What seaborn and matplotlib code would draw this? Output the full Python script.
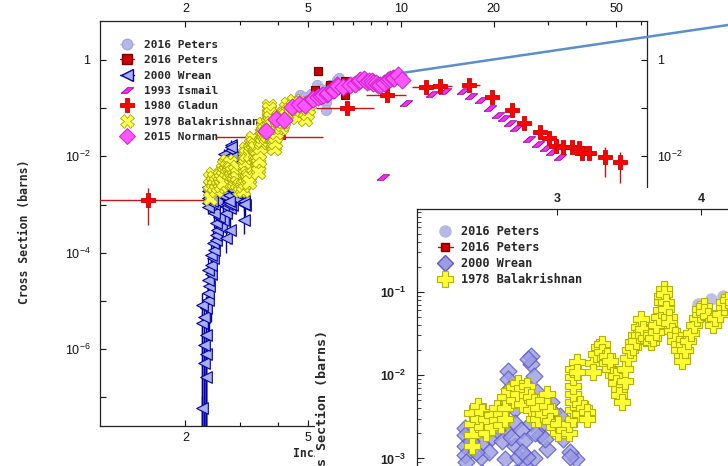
import numpy as np
import pandas as pd
import matplotlib
matplotlib.use("Agg")
import matplotlib.pyplot as plt
import seaborn as sns
from matplotlib.lines import Line2D
from matplotlib.patches import Rectangle
from matplotlib.ticker import FixedLocator, FuncFormatter, LogLocator, NullFormatter, NullLocator

# ---------------- data ----------------
# 2016 Peters (circles)
peters_c_x = [3.98, 4.07, 4.15, 4.30, 4.55, 4.70, 4.90, 5.10, 5.35, 5.50, 5.70, 5.70, 5.70, 5.90, 6.20, 6.30, 6.60, 6.90, 7.20]
peters_c_y = [0.072, 0.082, 0.090, 0.10, 0.14, 0.19, 0.17, 0.20, 0.30, 0.25, 0.24, 0.137, 0.092, 0.30, 0.385, 0.42, 0.30, 0.35, 0.30]
# 2016 Peters (squares)
peters_s_x = [5.37, 6.60, 6.60, 5.25, 5.90]
peters_s_y = [0.58, 0.36, 0.19, 0.24, 0.30]

# 2000 Wrean
wrean_x = [2.27, 2.33, 2.30, 2.33, 2.30, 2.33, 2.27, 2.30, 2.33, 2.27, 2.36, 2.36, 2.39, 2.36, 2.42,
           2.36, 2.42, 2.45, 2.42, 2.48, 2.45, 2.51, 2.51, 2.71, 2.54, 2.61, 2.78, 2.51, 2.64, 3.09,
           2.57, 2.71, 2.48, 2.78, 3.13, 2.64, 2.84,
           2.36, 2.36, 2.36, 2.36, 2.37, 2.47, 2.47, 2.53, 2.60, 2.65, 2.66, 2.66, 2.67, 2.65, 2.71,
           2.71, 2.71, 2.73, 2.79, 2.82, 2.82, 2.80, 2.84, 2.86, 2.86, 2.82, 2.90, 2.88, 2.93, 2.96,
           2.97, 3.02, 3.01, 3.04, 3.09, 3.09, 2.40, 2.44, 2.55, 2.58, 2.62, 2.68, 2.75, 2.77, 2.85,
           2.92, 2.98, 2.76]
wrean_y = [5.9e-8, 2.7e-7, 5.1e-7, 8.1e-7, 1.23e-6, 1.95e-6, 3.5e-6, 4.7e-6, 7.1e-6, 8.3e-6, 1.05e-5,
           1.45e-5, 2.0e-5, 2.75e-5, 3.7e-5, 4.4e-5, 5.6e-5, 7.8e-5, 8.9e-5, 1.15e-4, 1.6e-4, 1.86e-4,
           2.34e-4, 2.0e-4, 2.95e-4, 3.5e-4, 3.0e-4, 4.1e-4, 4.8e-4, 4.8e-4, 5.6e-4, 6.6e-4, 6.6e-4,
           8.3e-4, 9.8e-4, 9.8e-4, 1.0e-3,
           0.0023, 0.0019, 0.0014, 0.0011, 0.0009, 0.0015, 0.00105, 0.0012, 0.0027, 0.0021, 0.0112,
           0.0089, 0.0068, 0.0047, 0.0039, 0.0027, 0.0014, 0.00105, 0.00105, 0.017, 0.0136, 0.0155,
           0.0098, 0.0062, 0.0043, 0.0027, 0.0027, 0.0019, 0.0013, 0.0047, 0.0036, 0.0032, 0.0022,
           0.0017, 0.0012, 0.00105, 0.0016, 0.0012, 0.0018, 0.0022, 0.0016, 0.0018, 0.0022, 0.0016,
           0.0020, 0.0017, 0.0026, 0.0012]
wrean_err_lo = [0.999, 0.999, 0.999, 0.999, 0.999, 0.999, 0.999, 0.999, 0.999, 0.999, 0.95,
                0.95, 0.95, 0.9, 0.9, 0.9, 0.9, 0.8, 0.8, 0.7, 0.7, 0.6, 0.6, 0.5, 0.5, 0.5, 0.5,
                0.5, 0.5, 0.5, 0.5, 0.5, 0.5, 0.4, 0.4, 0.4, 0.4] + [0.3] * 48
wrean_err_hi = [0.8] * 37 + [0.3] * 48

# 1993 Ismail
ismail_x = [10.4, 12.6, 13.9, 15.9, 16.9, 18.2, 19.4, 20.6, 21.6, 22.6, 23.7, 26.1, 27.8, 29.5, 31.0, 32.9, 8.78]
ismail_y = [0.126, 0.197, 0.23, 0.23, 0.18, 0.148, 0.099, 0.072, 0.062, 0.049, 0.038, 0.0226, 0.018, 0.015,
            0.0125, 0.0098, 0.0037]

# 1980 Gladun
gladun_x = [1.51, 3.99, 6.7, 9.0, 12.05, 13.4, 16.6, 19.7, 22.9, 25.1, 28.3, 30.3, 31.8, 33.6, 36.0, 37.8,
            38.7, 40.7, 46.0, 51.4]
gladun_y = [0.00124, 0.025, 0.10, 0.19, 0.27, 0.29, 0.30, 0.17, 0.092, 0.050, 0.032, 0.0245, 0.0166, 0.016,
            0.016, 0.0146, 0.012, 0.0116, 0.0096, 0.0076]
gladun_xerr_lo = [0.51, 1.49, 1.4, 1.3, 1.15, 0.8, 0.8] + [0.0] * 13
gladun_xerr_hi = [0.97, 1.61, 1.5, 1.4, 0.55, 1.2, 1.5] + [0.0] * 13
gladun_yerr_lo = [0.00086, 0.002, 0.008, 0.015, 0.02, 0.02, 0.02, 0.012, 0.008, 0.004, 0.003, 0.003, 0.002,
                  0.002, 0.002, 0.002, 0.003, 0.002, 0.0058, 0.0048]
gladun_yerr_hi = [0.00096, 0.002, 0.008, 0.015, 0.02, 0.02, 0.02, 0.012, 0.008, 0.004, 0.003, 0.003, 0.002,
                  0.002, 0.002, 0.002, 0.002, 0.002, 0.0064, 0.005]

# 1978 Balakrishnan
bal_x = [2.41, 2.41, 2.41, 2.41, 2.45, 2.45, 2.48, 2.48, 2.51, 2.51, 2.55, 2.55, 2.58, 2.58, 2.61, 2.61,
         2.64, 2.64, 2.64, 2.67, 2.70, 2.70, 2.73, 2.73, 2.76, 2.76, 2.79, 2.79, 2.82, 2.82, 2.84, 2.84,
         2.87, 2.87, 2.90, 2.90, 2.93, 2.93, 2.95, 2.95, 2.98, 3.01, 3.01, 3.05, 3.08, 3.08,
         3.11, 3.11, 3.11, 3.11, 3.11, 3.11, 3.11, 3.14, 3.14, 3.16, 3.16, 3.19, 3.21, 3.21,
         3.25, 3.25, 3.27, 3.29, 3.31, 3.31, 3.33, 3.35, 3.35, 3.37, 3.37, 3.39, 3.41, 3.41, 3.43, 3.43,
         3.45, 3.47, 3.47, 3.49, 3.51, 3.53, 3.53, 3.55, 3.55, 3.57, 3.57, 3.58, 3.60, 3.60, 3.62, 3.65,
         3.65, 3.67, 3.69, 3.69, 3.71, 3.72, 3.73, 3.73, 3.74, 3.74, 3.76, 3.76, 3.78, 3.78, 3.80, 3.82,
         3.82, 3.85, 3.85, 3.87, 3.87, 3.89, 3.91, 3.93, 3.95, 3.97, 3.99, 3.99, 4.02, 4.02, 4.05, 4.08,
         4.08, 4.10, 4.13, 4.16, 4.16, 4.19,
         4.22, 4.25, 4.30, 4.34, 4.40, 4.45, 4.50, 4.55, 4.60, 4.65, 4.70, 4.79, 4.85, 4.90, 4.95, 5.00, 5.05]
bal_y = [0.0035, 0.0026, 0.0019, 0.0014, 0.0043, 0.0030, 0.0036, 0.0024, 0.0030, 0.0020, 0.0033, 0.0024,
         0.0040, 0.0029, 0.0034, 0.0025, 0.0055, 0.0040, 0.0030, 0.0065, 0.0072, 0.0050, 0.0080, 0.0060,
         0.0070, 0.0045, 0.0074, 0.0058, 0.0055, 0.0038, 0.0047, 0.0030, 0.0040, 0.0030, 0.0050, 0.0034,
         0.0060, 0.0043, 0.0036, 0.0028, 0.0024, 0.0020, 0.0026, 0.0022, 0.0020, 0.0026,
         0.0030, 0.0038, 0.0048, 0.0060, 0.0075, 0.0095, 0.0120, 0.0142, 0.0110, 0.0045, 0.0034, 0.0040,
         0.0036, 0.0030,
         0.014, 0.011, 0.018, 0.022, 0.024, 0.019, 0.016, 0.014, 0.017, 0.012, 0.015, 0.010, 0.0098, 0.008,
         0.0068, 0.0058, 0.0048, 0.0085, 0.012, 0.016, 0.020, 0.025, 0.022, 0.030, 0.026, 0.038, 0.030,
         0.047, 0.030, 0.036, 0.028, 0.025, 0.030, 0.028, 0.033, 0.040, 0.050, 0.060, 0.075, 0.090, 0.109,
         0.095, 0.075, 0.062, 0.050, 0.042, 0.034, 0.030, 0.026, 0.024, 0.020, 0.017, 0.015, 0.020, 0.026,
         0.032, 0.040, 0.048, 0.055, 0.062, 0.068, 0.058, 0.052, 0.045, 0.040, 0.048, 0.055, 0.065, 0.075,
         0.080,
         0.075, 0.10, 0.12, 0.092, 0.075, 0.11, 0.14, 0.09, 0.065, 0.10, 0.13, 0.092, 0.12, 0.06, 0.08,
         0.10, 0.13]

# 2015 Norman
norman_x = [3.65, 3.92, 4.17, 4.43, 4.67, 4.90, 5.13, 5.20, 5.39, 5.50, 5.60, 5.74, 5.80, 6.00, 6.06, 6.20,
            6.25, 6.50, 6.83, 7.10, 7.30, 7.37, 7.60, 7.75, 7.90, 8.05, 8.10, 8.30, 8.40, 8.55, 8.80, 9.10,
            9.20, 9.40, 9.50, 9.80, 10.1]
norman_y = [0.034, 0.060, 0.057, 0.108, 0.122, 0.118, 0.155, 0.153, 0.173, 0.180, 0.188, 0.200, 0.210, 0.240,
            0.240, 0.300, 0.290, 0.280, 0.300, 0.320, 0.370, 0.385, 0.400, 0.350, 0.370, 0.370, 0.330, 0.330,
            0.300, 0.300, 0.340, 0.385, 0.400, 0.420, 0.430, 0.490, 0.380]

x_major_labels = [2, 5, 10, 20, 50]
inset_x_ticks = [3, 4]

series_main = ["2016 Peters", "2016 Peters", "2000 Wrean", "1993 Ismail", "1980 Gladun",
               "1978 Balakrishnan", "2015 Norman"]
series_inset = ["2016 Peters", "2016 Peters", "2000 Wrean", "1978 Balakrishnan"]

# ---------------- style ----------------
sns.set_style("ticks")
plt.rcParams["font.family"] = ["Liberation Sans", "DejaVu Sans"]
plt.rcParams["mathtext.fontset"] = "custom"
plt.rcParams["mathtext.rm"] = "Liberation Sans"
plt.rcParams["mathtext.bf"] = "Liberation Sans:bold"
plt.rcParams["axes.edgecolor"] = "#222222"
plt.rcParams["axes.linewidth"] = 0.9

MONO = "DejaVu Sans Mono"
W, H = 728, 466


def px_rect(l, t, r, b):
    return [l / W, 1 - b / H, (r - l) / W, (b - t) / H]


para = [(-1, -0.45), (0.0, -0.45), (1, 0.45), (0.0, 0.45), (-1, -0.45)]

C_PC_FACE, C_PC_EDGE = "#b8b8e8", "#a4a4da"
C_PS_FACE, C_PS_EDGE = "#cc0000", "#7a0000"
C_WR_FACE, C_WR_EDGE = "#aab0ee", "#0000aa"
C_IS_FACE, C_IS_EDGE = "#ee30ee", "#a000a0"
C_GL_FACE, C_GL_EDGE, C_GL_ERR = "#ff0000", "#d00000", "#c01818"
C_BA_FACE, C_BA_EDGE = "#ffff50", "#a8a800"
C_NO_FACE, C_NO_EDGE = "#ff55ff", "#cc22cc"

fig = plt.figure(figsize=(W / 100, H / 100), dpi=100)
fig.patch.set_facecolor("white")

# ---------------- main axes ----------------
ax = fig.add_axes(px_rect(100, 21, 647, 426))
ax.set_xscale("log")
ax.set_yscale("log")

ax.errorbar(peters_c_x, peters_c_y, xerr=[np.array(peters_c_x) * 0.03, np.array(peters_c_x) * 0.03],
            fmt="none", ecolor="#c4c4ec", elinewidth=1, zorder=1)
sns.scatterplot(x=peters_c_x, y=peters_c_y, marker="o", s=55, color=C_PC_FACE, edgecolor=C_PC_EDGE,
                linewidth=0.6, ax=ax, zorder=2, legend=False)
sns.scatterplot(x=peters_s_x, y=peters_s_y, marker="s", s=40, color=C_PS_FACE, edgecolor=C_PS_EDGE,
                linewidth=0.8, ax=ax, zorder=3, legend=False)

wy = np.array(wrean_y)
ax.errorbar(wrean_x, wrean_y, yerr=[wy * np.array(wrean_err_lo), wy * np.array(wrean_err_hi)], fmt="none",
            ecolor="#0000aa", elinewidth=1.0, zorder=4)
sns.scatterplot(x=wrean_x, y=wrean_y, marker="<", s=70, color=C_WR_FACE, edgecolor=C_WR_EDGE,
                linewidth=0.8, ax=ax, zorder=5, legend=False)

sns.scatterplot(x=ismail_x, y=ismail_y, marker=para, s=80, color=C_IS_FACE, edgecolor=C_IS_EDGE,
                linewidth=0.6, ax=ax, zorder=6, legend=False)

ax.errorbar(gladun_x, gladun_y, xerr=[gladun_xerr_lo, gladun_xerr_hi], yerr=[gladun_yerr_lo, gladun_yerr_hi],
            fmt="none", ecolor=C_GL_ERR, elinewidth=1.0, zorder=7)
sns.scatterplot(x=gladun_x, y=gladun_y, marker="P", s=110, color=C_GL_FACE, edgecolor=C_GL_EDGE,
                linewidth=0.6, ax=ax, zorder=8, legend=False)

sns.scatterplot(x=bal_x, y=bal_y, marker="X", s=110, color=C_BA_FACE, edgecolor=C_BA_EDGE,
                linewidth=0.6, ax=ax, zorder=9, legend=False)

sns.scatterplot(x=norman_x, y=norman_y, marker="D", s=75, color=C_NO_FACE, edgecolor=C_NO_EDGE,
                linewidth=0.7, ax=ax, zorder=10, legend=False)

ax.set_xlim(1.056, 62.9)
ax.set_ylim(2.55e-8, 6.44)

ax.xaxis.set_major_locator(FixedLocator(x_major_labels))
ax.xaxis.set_major_formatter(FuncFormatter(lambda v, p: "%g" % v))
ax.xaxis.set_minor_locator(LogLocator(base=10, subs=np.arange(1, 10), numticks=30))
ax.xaxis.set_minor_formatter(NullFormatter())


def main_yfmt(v, p):
    e = int(round(np.log10(v)))
    if e % 2:
        return ""
    if e == 0:
        return "1"
    return r"$\mathregular{10^{%d}}$" % e


ax.yaxis.set_major_locator(LogLocator(base=10, numticks=30))
ax.yaxis.set_major_formatter(FuncFormatter(main_yfmt))
ax.yaxis.set_minor_locator(NullLocator())
ax.tick_params(which="both", direction="in", top=True, right=True, labeltop=True, labelright=True,
               labelsize=9, colors="#111111")
ax.tick_params(which="major", length=4.5, width=0.8)
ax.tick_params(which="minor", length=3.2, width=0.8)
ax.tick_params(axis="y", pad=7)
ax.tick_params(axis="x", pad=4)

ax.set_ylabel("Cross Section (barns)", fontfamily=MONO, fontweight="bold", fontsize=8.3)
ax.yaxis.set_label_coords(-0.126, 0.479)
ax.set_xlabel("Incident Energy (MeV)", fontfamily=MONO, fontweight="bold", fontsize=8.3)
ax.xaxis.set_label_coords(0.485, -0.052)

handles_main = [
    Line2D([], [], color="#c4c4ec", lw=1, marker="o", ms=7.5, mfc=C_PC_FACE, mec=C_PC_EDGE),
    Line2D([], [], color=C_PS_FACE, lw=1, marker="s", ms=6.5, mfc=C_PS_FACE, mec=C_PS_EDGE),
    Line2D([], [], color=C_WR_EDGE, lw=1, marker="<", ms=8.5, mfc=C_WR_FACE, mec=C_WR_EDGE),
    Line2D([], [], ls="none", marker=para, ms=9, mfc=C_IS_FACE, mec=C_IS_EDGE, mew=0.6),
    Line2D([], [], color=C_GL_ERR, lw=1, marker="P", ms=10, mfc=C_GL_FACE, mec=C_GL_EDGE, mew=0.6),
    Line2D([], [], ls="none", marker="X", ms=10, mfc=C_BA_FACE, mec=C_BA_EDGE, mew=0.6),
    Line2D([], [], ls="none", marker="D", ms=8, mfc=C_NO_FACE, mec=C_NO_EDGE, mew=0.7),
]
ax.legend(handles_main, series_main, loc="upper left", bbox_to_anchor=(120 / W, 1 - 40 / H),
          bbox_transform=fig.transFigure, frameon=False, borderpad=0, borderaxespad=0,
          handlelength=1.25, handletextpad=0.9, labelspacing=0.48,
          prop={"family": MONO, "weight": "bold", "size": 8})

# ---------------- white panel of the zoom window ----------------
fig.add_artist(Rectangle((315 / W, 0), (W - 315) / W, (H - 188) / H, transform=fig.transFigure,
                         facecolor="white", edgecolor="none", zorder=1))

# ---------------- connector line ----------------
fig.canvas.draw()
p0 = fig.transFigure.inverted().transform(ax.transData.transform((10.3, 0.55)))
p1 = (1.0, 1 - 25 / H)
fig.add_artist(Line2D([p0[0], p1[0]], [p0[1], p1[1]], transform=fig.transFigure, color="#5b8ecb",
                      lw=1.8, zorder=2, solid_capstyle="round"))

# ---------------- inset axes ----------------
axi = fig.add_axes(px_rect(417, 209, 900, 619), zorder=3)
axi.set_yscale("log")
sns.scatterplot(x=peters_c_x, y=peters_c_y, marker="o", s=70, color=C_PC_FACE, edgecolor=C_PC_FACE,
                linewidth=0.5, alpha=0.9, ax=axi, zorder=2, legend=False)
sns.scatterplot(x=peters_s_x, y=peters_s_y, marker="s", s=40, color=C_PS_FACE, edgecolor=C_PS_EDGE,
                linewidth=0.8, ax=axi, zorder=3, legend=False)
sns.scatterplot(x=wrean_x, y=wrean_y, marker="D", s=75, color="#9c9ce4", edgecolor="#5a5ac4",
                linewidth=0.9, alpha=0.8, ax=axi, zorder=4, legend=False)
sns.scatterplot(x=bal_x, y=bal_y, marker="P", s=140, color="#ffff33", edgecolor="#b4b400",
                linewidth=0.8, ax=axi, zorder=5, legend=False)

axi.set_xlim(2.0278, 5.382)
axi.set_ylim(1.18e-5, 0.99)
axi.xaxis.tick_top()
axi.xaxis.set_major_locator(FixedLocator(inset_x_ticks))
axi.xaxis.set_major_formatter(FuncFormatter(lambda v, p: "%g" % v))
axi.xaxis.set_minor_locator(NullLocator())


def inset_yfmt(v, p):
    e = int(round(np.log10(v)))
    return r"$\mathbf{10^{%d}}$" % e


axi.yaxis.set_major_locator(LogLocator(base=10, numticks=30))
axi.yaxis.set_major_formatter(FuncFormatter(inset_yfmt))
axi.yaxis.set_minor_locator(LogLocator(base=10, subs=np.arange(2, 10), numticks=30))
axi.yaxis.set_minor_formatter(NullFormatter())
axi.tick_params(which="both", direction="in", labelsize=9, colors="#222222")
axi.tick_params(axis="x", top=True, bottom=False, labeltop=True, labelbottom=False, length=4, pad=3)
axi.tick_params(axis="y", which="major", length=5, pad=8)
axi.tick_params(axis="y", which="minor", length=3)
for lab in axi.get_xticklabels():
    lab.set_fontweight("bold")

axi.set_ylabel("Cross Section (barns)", fontfamily=MONO, fontweight="bold", fontsize=9.6)
axi.yaxis.set_label_coords(-0.182, 0.5)

handles_inset = [
    Line2D([], [], ls="none", marker="o", ms=8, mfc=C_PC_FACE, mec=C_PC_FACE),
    Line2D([], [], color=C_PS_FACE, lw=1, marker="s", ms=6, mfc=C_PS_FACE, mec=C_PS_EDGE),
    Line2D([], [], ls="none", marker="D", ms=8, mfc="#9c9ce4", mec="#5a5ac4"),
    Line2D([], [], ls="none", marker="P", ms=11, mfc="#ffff33", mec="#b4b400", mew=0.8),
]
axi.legend(handles_inset, series_inset, loc="upper left", bbox_to_anchor=(438 / W, 1 - 225 / H),
           bbox_transform=fig.transFigure, frameon=False, borderpad=0, borderaxespad=0,
           handlelength=1.25, handletextpad=0.7, labelspacing=0.25,
           prop={"family": MONO, "weight": "bold", "size": 8.6})

fig.savefig("out.png", dpi=100)
